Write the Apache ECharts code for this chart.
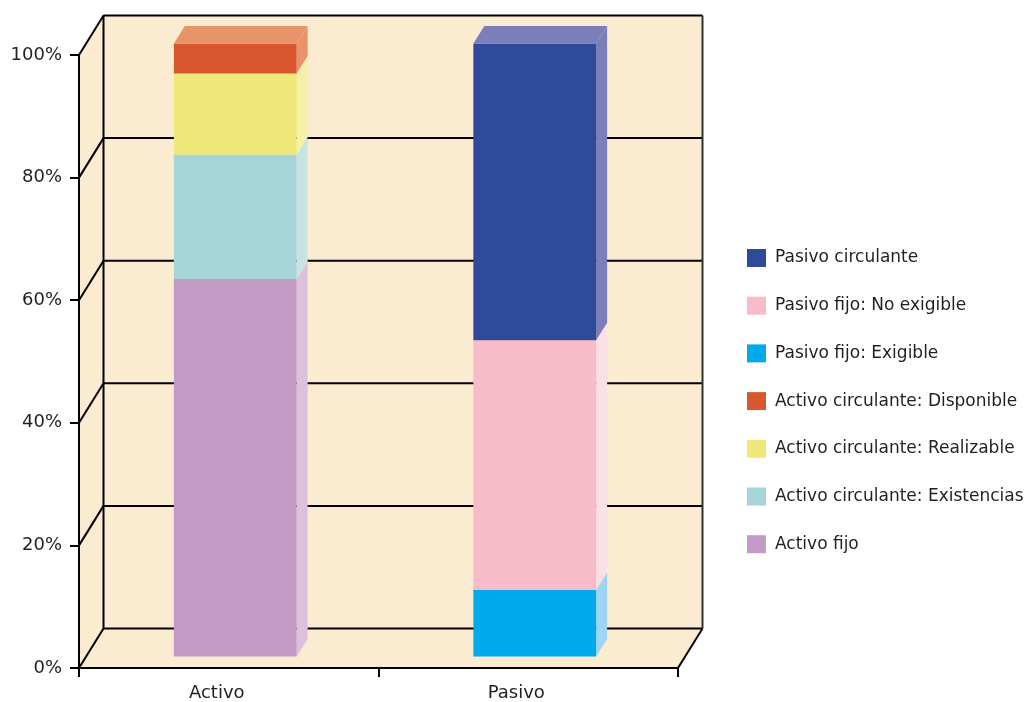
<!DOCTYPE html>
<html>
<head>
<meta charset="utf-8">
<script src="https://cdn.jsdelivr.net/npm/echarts@6/dist/echarts.min.js"></script>
<style>
html,body{margin:0;padding:0;background:#fff;}
#chart{width:1026px;height:702px;}
</style>
</head>
<body>
<div id="chart"></div>
<script>
// ---- data ----
const categories = ['Activo', 'Pasivo'];
const yTicks = [0, 20, 40, 60, 80, 100];

// stacking order bottom -> top
const seriesNames = [
  'Activo fijo',
  'Activo circulante: Existencias',
  'Activo circulante: Realizable',
  'Activo circulante: Disponible',
  'Pasivo fijo: Exigible',
  'Pasivo fijo: No exigible',
  'Pasivo circulante'
];
const activoFijo        = [61.6, 0];
const activoExistencias = [20.3, 0];
const activoRealizable  = [13.2, 0];
const activoDisponible  = [4.9, 0];
const pasivoExigible    = [0, 10.9];
const pasivoNoExigible  = [0, 40.7];
const pasivoCirculante  = [0, 48.4];
const seriesValues = [activoFijo, activoExistencias, activoRealizable, activoDisponible,
                      pasivoExigible, pasivoNoExigible, pasivoCirculante];

const legendOrder = [
  'Pasivo circulante',
  'Pasivo fijo: No exigible',
  'Pasivo fijo: Exigible',
  'Activo circulante: Disponible',
  'Activo circulante: Realizable',
  'Activo circulante: Existencias',
  'Activo fijo'
];

// ---- styles ----
const frontColors = ['#C39AC5', '#A5D5D7', '#EFE878', '#D9572F', '#00A9EA', '#F7BBC9', '#2E4A9A'];
const sideColors  = ['#DDC1DC', '#C6E4E4', '#F5EFA8', '#E8936A', '#9FD4F3', '#FCE0E7', '#7B7EB8'];
const topColors   = ['#DDC1DC', '#C6E4E4', '#F5EFA8', '#E8936A', '#9FD4F3', '#FCE0E7', '#7B7EB8'];
const WALL = '#FBEBD0';
const WX = 24.5, WY = 39.5;   // back wall offset
const OX = 6.5, OY = -11.5;   // bar front face offset
const DX = 11, DY = 17.5;     // bar depth
const BAR_RATIO = 0.41;
const TEXT = '#231F20';
const FONT = 'DejaVu Sans';

// ---- build stacked data ----
const builtData = seriesValues.map((vals, s) => vals.map((v, i) => {
  let base = 0;
  for (let k = 0; k < s; k++) base += seriesValues[k][i];
  let above = 0;
  for (let k = s + 1; k < seriesValues.length; k++) above += seriesValues[k][i];
  return [i, base, base + v, above > 0 ? 0 : 1];
}));

function renderWall(params, api) {
  const cs = params.coordSys;
  const L = cs.x, R = cs.x + cs.width, T = cs.y, B = cs.y + cs.height;
  const line = (x1, y1, x2, y2, c) => ({
    type: 'line', shape: {x1, y1, x2, y2},
    style: {stroke: c || '#000', lineWidth: 2}
  });
  const children = [{
    type: 'polygon',
    shape: {points: [[L, T], [L + WX, T - WY], [R + WX, T - WY], [R + WX, B - WY], [R, B], [L, B]]},
    style: {fill: WALL}
  }];
  yTicks.forEach(v => {
    const y = api.coord([0, v])[1];
    children.push(line(L + WX, y - WY, R + WX, y - WY));
    children.push(line(L, y, L + WX, y - WY));
  });
  children.push(line(L + WX, T - WY, L + WX, B - WY));
  children.push(line(R + WX, T - WY, R + WX, B - WY, '#333'));
  children.push(line(R, B, R + WX, B - WY));
  return {type: 'group', children};
}

function makeRender(s) {
  return function (params, api) {
    const cat = api.value(0), lo = api.value(1), hi = api.value(2), isTop = api.value(3);
    if (hi - lo <= 0) return null;
    const p0 = api.coord([cat, lo]);
    const p1 = api.coord([cat, hi]);
    const bw = api.size([1, 0])[0] * BAR_RATIO;
    const x0 = p0[0] + OX - bw / 2, x1 = x0 + bw;
    const yb = p0[1] + OY, yt = p1[1] + OY;
    const children = [
      {type: 'polygon', shape: {points: [[x1, yt], [x1 + DX, yt - DY], [x1 + DX, yb - DY], [x1, yb]]},
       style: {fill: sideColors[s]}},
      {type: 'rect', shape: {x: x0, y: yt, width: bw, height: yb - yt},
       style: {fill: frontColors[s]}}
    ];
    if (isTop) {
      children.push({type: 'polygon',
        shape: {points: [[x0, yt], [x0 + DX, yt - DY], [x1 + DX, yt - DY], [x1, yt]]},
        style: {fill: topColors[s]}});
    }
    return {type: 'group', children};
  };
}

const series = [{
  type: 'custom',
  z: -1,
  silent: true,
  renderItem: renderWall,
  data: [[0, 0]],
  encode: {x: 0, y: 1}
}];
seriesNames.forEach((name, s) => {
  series.push({
    type: 'custom',
    name,
    z: 3,
    itemStyle: {color: frontColors[s]},
    renderItem: makeRender(s),
    data: builtData[s],
    encode: {x: 0, y: [1, 2]}
  });
});

const chart = echarts.init(document.getElementById('chart'), null, {renderer: 'canvas'});
chart.setOption({
  animation: false,
  backgroundColor: '#ffffff',
  grid: {left: 79, top: 55, width: 599, height: 613},
  legend: {
    data: legendOrder,
    orient: 'vertical',
    left: 747, top: 249,
    padding: 0,
    itemWidth: 19, itemHeight: 18, itemGap: 29.7,
    icon: 'rect',
    textStyle: {fontFamily: FONT, fontSize: 17, color: TEXT, padding: [3, 0, 0, 4]}
  },
  xAxis: {
    type: 'category',
    data: categories,
    boundaryGap: true,
    axisLine: {lineStyle: {color: '#000', width: 2}},
    axisTick: {show: true, length: 9, lineStyle: {color: '#000', width: 2}},
    axisLabel: {fontFamily: FONT, fontSize: 18, color: TEXT, margin: 16, padding: [0, 24, 0, 0]},
    splitLine: {show: false}
  },
  yAxis: {
    type: 'value',
    min: 0, max: 100, interval: 20,
    axisLine: {show: true, lineStyle: {color: '#000', width: 2}},
    axisTick: {show: true, length: 9, lineStyle: {color: '#000', width: 2}},
    axisLabel: {fontFamily: FONT, fontSize: 18, color: TEXT, margin: 17,
                formatter: '{value}%', padding: [0, 0, 8, 0]},
    splitLine: {show: false}
  },
  series
});
</script>
</body>
</html>
